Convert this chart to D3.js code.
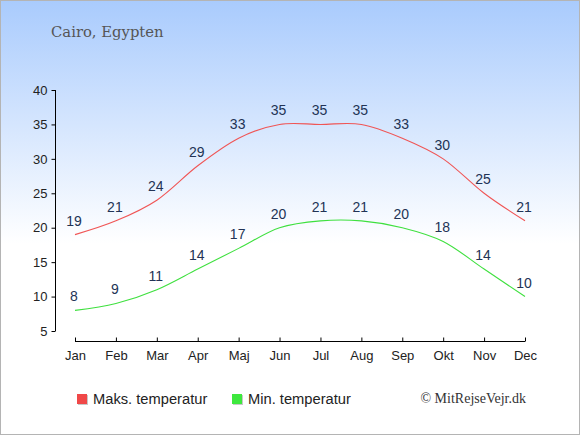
<!DOCTYPE html>
<html><head><meta charset="utf-8">
<script src="https://cdn.jsdelivr.net/npm/d3@7"></script>
<style>html,body{margin:0;padding:0;background:#fff}svg{display:block}</style>
</head><body>
<svg id="c" width="580" height="435"></svg>
<script>
const months = ["Jan","Feb","Mar","Apr","Maj","Jun","Jul","Aug","Sep","Okt","Nov","Dec"];
const maxTemp = [19,21,24,29,33,35,35,35,33,30,25,21];
const minTemp = [8,9,11,14,17,20,21,21,20,18,14,10];
const yTicks = [5,10,15,20,25,30,35,40];
const title = "Cairo, Egypten";
const legendLabels = ["Maks. temperatur","Min. temperatur"];
const credit = "© MitRejseVejr.dk";

const svg = d3.select("#c");
const W = 580, H = 435;
const defs = svg.append("defs");
const grad = defs.append("linearGradient").attr("id","bg").attr("x1",0).attr("y1",0).attr("x2",0).attr("y2",1);
grad.append("stop").attr("offset","0%").attr("stop-color","#a9cbfd");
grad.append("stop").attr("offset","56%").attr("stop-color","#ffffff");
grad.append("stop").attr("offset","100%").attr("stop-color","#ffffff");
svg.append("rect").attr("x",0.5).attr("y",0.5).attr("width",W-1).attr("height",H-1)
  .attr("fill","url(#bg)").attr("stroke","#b4b4b4").attr("stroke-width",1);

svg.append("text").attr("x",51).attr("y",37).text(title)
  .attr("font-family","'DejaVu Serif','Liberation Serif',serif").attr("font-size",14.8).attr("fill","#555");

const x = d3.scalePoint().domain(months).range([75,525]);
const y = d3.scaleLinear().domain([5,40]).range([331,90]);

const font = "'Liberation Sans',Arial,sans-serif";
const yAxis = svg.append("g").attr("transform","translate(55.5,0)")
  .call(d3.axisLeft(y).tickValues(yTicks).tickSize(4).tickPadding(4));
const xAxis = svg.append("g").attr("transform","translate(0,341.5)")
  .call(d3.axisBottom(x).tickSize(-4).tickPadding(9).tickSizeOuter(0));
[yAxis,xAxis].forEach(g=>{
  g.selectAll("text").attr("font-family",font).attr("font-size",13).attr("fill","#222");
  g.selectAll("line,path").attr("stroke","#000");
});
xAxis.select(".domain").attr("d",`M${x("Jan")},0H${x("Dec")}`);
xAxis.selectAll(".tick line").attr("y1",-4).attr("y2",0);
yAxis.select(".domain").attr("d",`M0,${y(40)}V${y(5)}`);

const line = d3.line().x((d,i)=>x(months[i])).y(d=>y(d)).curve(d3.curveCardinal.tension(0));
const series = [{v:maxTemp,c:"#f05555"},{v:minTemp,c:"#3fe03f"}];
series.forEach(s=>{
  svg.append("path").attr("d",line(s.v)).attr("fill","none").attr("stroke",s.c).attr("stroke-width",1.1);
  svg.append("g").selectAll("text").data(s.v).join("text")
    .attr("x",(d,i)=>x(months[i])-1).attr("y",d=>y(d)-9)
    .attr("text-anchor","middle").attr("font-family",font).attr("font-size",14).attr("fill","#223355")
    .text(d=>d);
});

const legX = [77,232];
const legC = ["#f04848","#3ee83e"];
legendLabels.forEach((t,i)=>{
  svg.append("rect").attr("x",legX[i]+1).attr("y",395).attr("width",10).attr("height",10).attr("fill","#c8c8c8");
  svg.append("rect").attr("x",legX[i]).attr("y",394).attr("width",10).attr("height",10).attr("fill",legC[i]);
  svg.append("text").attr("x",legX[i]+16).attr("y",404).text(t)
    .attr("font-family",font).attr("font-size",14.7).attr("fill","#222");
});
svg.append("text").attr("x",526).attr("y",403).attr("text-anchor","end").text(credit)
  .attr("font-family","'Liberation Serif','Times New Roman',serif").attr("font-size",14).attr("fill","#333");
</script>
</body></html>
